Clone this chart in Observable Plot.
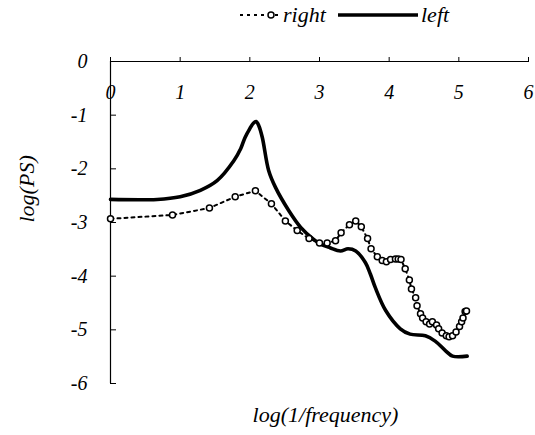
<!DOCTYPE html>
<html><head><meta charset="utf-8">
<script src="https://cdn.jsdelivr.net/npm/d3@7"></script>
<script src="https://cdn.jsdelivr.net/npm/@observablehq/plot@0.6"></script>
<style>
body{margin:0;background:#fff;}
#wrap{width:535px;height:435px;}
#legend{height:30px;width:535px;display:block;}
text{font-family:"Liberation Serif","Times New Roman",serif !important;font-style:italic;}
</style></head><body>
<div id="wrap">
<svg id="legend" width="535" height="30" font-size="22">
  <line x1="240" x2="281" y1="15" y2="15" stroke="#000" stroke-width="2" stroke-dasharray="3,4"/>
  <circle cx="271" cy="15" r="3" fill="#fff" stroke="#000" stroke-width="1.5"/>
  <text x="283" y="22">right</text>
  <line x1="338" x2="418" y1="15" y2="15" stroke="#000" stroke-width="3.5"/>
  <text x="421" y="22">left</text>
</svg>
<div id="chart"></div>
</div>
<script>
const xTicks = [0, 1, 2, 3, 4, 5, 6];
const yTicks = [0, -1, -2, -3, -4, -5, -6];

const leftX = [0, 0.67, 1.0, 1.29, 1.53, 1.77, 1.87, 1.93, 2.0, 2.05, 2.09, 2.13, 2.18, 2.27, 2.37, 2.56, 2.73, 2.92, 3.01, 3.15, 3.30, 3.41, 3.52, 3.66, 3.73, 3.80, 3.95, 4.16, 4.30, 4.52, 4.66, 4.81, 4.91, 5.12];
const leftY = [-2.57, -2.57, -2.52, -2.40, -2.22, -1.85, -1.62, -1.42, -1.25, -1.15, -1.12, -1.2, -1.42, -2.03, -2.35, -2.78, -3.09, -3.32, -3.40, -3.47, -3.53, -3.49, -3.53, -3.75, -3.96, -4.21, -4.64, -4.98, -5.08, -5.11, -5.21, -5.39, -5.49, -5.49];

const rightX = [0, 0.89, 1.42, 1.79, 2.08, 2.31, 2.51, 2.68, 2.85, 3.0, 3.11, 3.23, 3.31, 3.43, 3.52, 3.6, 3.69, 3.74, 3.83, 3.9, 3.96, 4.02, 4.09, 4.13, 4.17, 4.23, 4.29, 4.32, 4.38, 4.40, 4.45, 4.48, 4.53, 4.58, 4.62, 4.68, 4.71, 4.76, 4.82, 4.86, 4.91, 4.96, 5.01, 5.04, 5.06, 5.09, 5.11];
const rightY = [-2.93, -2.86, -2.73, -2.52, -2.41, -2.65, -2.97, -3.15, -3.30, -3.38, -3.38, -3.34, -3.19, -3.04, -2.97, -3.08, -3.30, -3.49, -3.64, -3.71, -3.73, -3.69, -3.68, -3.68, -3.69, -3.86, -4.07, -4.24, -4.40, -4.55, -4.70, -4.78, -4.85, -4.89, -4.85, -4.91, -4.98, -5.06, -5.11, -5.13, -5.11, -5.04, -4.94, -4.85, -4.78, -4.66, -4.65];

const left = leftX.map((x, i) => ({x, y: leftY[i]}));
const right = rightX.map((x, i) => ({x, y: rightY[i]}));

const plot = Plot.plot({
  width: 535, height: 405,
  marginTop: 31, marginBottom: 52, marginLeft: 110, marginRight: 7,
  style: {fontSize: "20px", background: "#fff"},
  x: {domain: [0, 6], axis: null},
  y: {domain: [-6, 0], axis: null},
  marks: [
    Plot.ruleY([0], {stroke: "#000", strokeWidth: 1.2}),
    Plot.ruleX([0], {stroke: "#000", strokeWidth: 1.2}),
    Plot.axisX({ticks: xTicks, anchor: "top", tickSize: 5, tickFormat: () => "", label: null, stroke: "#000"}),
    Plot.axisY({ticks: yTicks, anchor: "left", tickSize: -6, tickFormat: () => "", label: null, stroke: "#000"}),
    Plot.text(xTicks, {x: d => d, y: 0, dy: 31, text: d => String(d), fill: "#000", fontSize: 20}),
    Plot.text(yTicks, {x: 0, y: d => d, dx: -23, textAnchor: "end", text: d => String(d), fill: "#000", fontSize: 20}),
    Plot.line(right, {x: "x", y: "y", stroke: "#000", strokeWidth: 2, strokeDasharray: "3,4"}),
    Plot.line(left, {x: "x", y: "y", stroke: "#000", strokeWidth: 3.6, strokeLinejoin: "round", curve: "catmull-rom"}),
    Plot.dot(right, {x: "x", y: "y", r: 3, fill: "#fff", stroke: "#000", strokeWidth: 1.5}),
    Plot.text(["log(PS)"], {frameAnchor: "left", dx: -84, rotate: -90, text: d => d, fill: "#000", fontSize: 22}),
    Plot.text(["log(1/frequency)"], {frameAnchor: "bottom", dx: 6, dy: 38, text: d => d, fill: "#000", fontSize: 22})
  ]
});
document.getElementById("chart").appendChild(plot);
</script>
</body></html>
